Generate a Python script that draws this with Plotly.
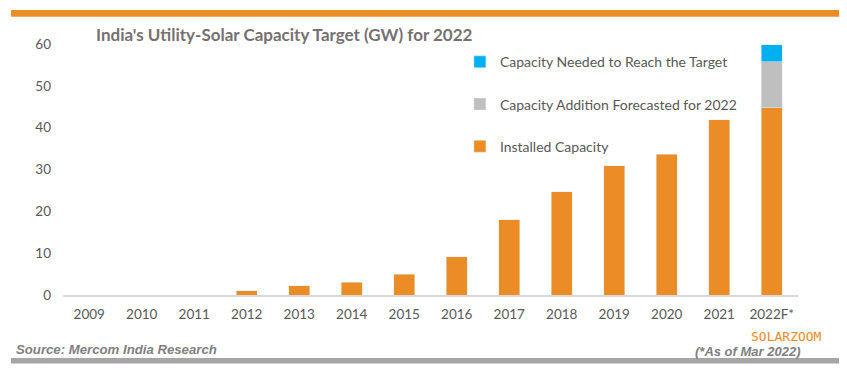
import plotly.graph_objects as go

years = ["2009", "2010", "2011", "2012", "2013", "2014", "2015", "2016",
         "2017", "2018", "2019", "2020", "2021", "2022F*"]
installed = [0, 0, 0, 1.0, 2.2, 3.1, 5.0, 9.1, 18.0, 24.7, 30.9, 33.6, 41.9, 44.8]
forecast = [None] * 13 + [11.0]
needed = [None] * 13 + [4.0]

ORANGE = "#EC8C24"
GREY = "#BFBFBF"
BLUE = "#00B0F0"
TXT = "#595959"
FONT = "Lato"

# plot area in window pixels: x 63..798, y 44..295 (page body has 8px margin)
PX0, PW, PY0, PH = 63, 735, 295, 251


def px(x):
    return (x - PX0) / PW


def py(y):
    return (PY0 - y) / PH


fig = go.Figure()
fig.add_trace(go.Bar(x=years, y=installed, name="Installed Capacity",
                     marker_color=ORANGE, legendgroup="a", legendrank=3, width=0.4))
fig.add_trace(go.Bar(x=years, y=forecast, name="Capacity Addition Forecasted for 2022",
                     marker_color=GREY, legendgroup="b", legendrank=2, width=0.4))
fig.add_trace(go.Bar(x=years, y=needed, name="Capacity Needed to Reach the Target",
                     marker_color=BLUE, legendgroup="c", legendrank=1, width=0.4))

fig.update_layout(
    width=847, height=374,
    margin=dict(l=55, r=57, t=36, b=87),
    barmode="stack",
    plot_bgcolor="white", paper_bgcolor="white",
    font=dict(family=FONT, size=13.5, color=TXT),
    showlegend=True,
    legend=dict(x=0.54, y=0.991, xanchor="left", yanchor="top",
                traceorder="grouped", tracegroupgap=21,
                font=dict(family=FONT, size=14, color=TXT),
                bgcolor="rgba(0,0,0,0)", itemwidth=30),
    xaxis=dict(showgrid=False, showline=True, linecolor="#D9D9D9", linewidth=1.5,
               ticks="", tickfont=dict(size=13.5, color=TXT), ticklabelstandoff=6),
    yaxis=dict(range=[0, 60], dtick=10, showgrid=False, zeroline=False,
               showline=False, ticks="", tickfont=dict(size=13.5, color=TXT),
               ticklabelstandoff=11),
    bargap=0.6,
)

# decorative bands
fig.add_shape(type="rect", xref="paper", yref="paper", x0=px(11), x1=px(840),
              y0=py(10), y1=py(16.7), fillcolor=ORANGE, line_width=0)
fig.add_shape(type="rect", xref="paper", yref="paper", x0=px(11), x1=px(840),
              y0=py(358), y1=py(363.5), fillcolor="#A6A6A6", line_width=0)

fig.add_annotation(text="<b>India's Utility-Solar Capacity Target (GW) for 2022</b>",
                   xref="paper", yref="paper", x=px(94), y=py(34),
                   xanchor="left", yanchor="middle", showarrow=False,
                   font=dict(family=FONT, size=17, color="#767171"))
fig.add_annotation(text="<b><i>Source: Mercom India Research</i></b>",
                   xref="paper", yref="paper", x=px(14), y=py(349),
                   xanchor="left", yanchor="middle", showarrow=False,
                   font=dict(family="Liberation Sans", size=13.2, color="#808080"))
fig.add_annotation(text="<b><i>(*As of Mar 2022)</i></b>",
                   xref="paper", yref="paper", x=px(802), y=py(351),
                   xanchor="right", yanchor="middle", showarrow=False,
                   font=dict(family="Liberation Sans", size=13, color="#808080"))
fig.add_annotation(text="SOLARZOOM",
                   xref="paper", yref="paper", x=px(786), y=py(336),
                   xanchor="center", yanchor="middle", showarrow=False,
                   font=dict(family="DejaVu Sans Mono", size=13, color="#F08A1C"))

fig.write_html("out.html")
